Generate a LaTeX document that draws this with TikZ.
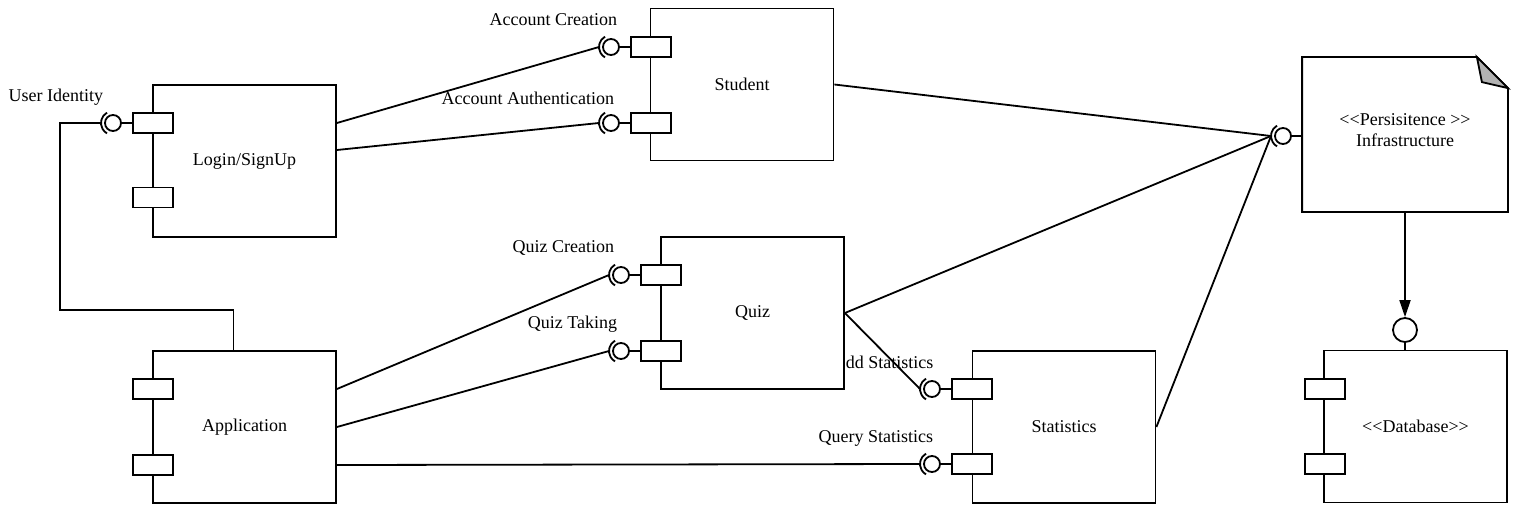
\documentclass[tikz,border=0pt]{standalone}
\usepackage{fontspec}
\setmainfont{Liberation Serif}
\usetikzlibrary{arrows.meta,calc}
\newcommand\mysock[3]{%
  \node[sockc] (#1) at (#2,#3) {};
  \draw ([shift={(120:12pt)}]#1.center) arc[start angle=120,end angle=240,radius=12pt];
  \coordinate (#1-s) at ([xshift=-12pt]#1.center);
}
\begin{document}
\begin{tikzpicture}[x=1pt,y=-1pt,line width=1.8pt,
  every node/.style={font=\fontsize{18}{21}\selectfont},
  comp/.style={draw,fill=white,minimum width=183pt,minimum height=152pt,inner sep=0pt},
  port/.style={draw,fill=white,minimum width=40pt,minimum height=20pt,inner sep=0pt},
  sockc/.style={draw,circle,minimum size=16pt,inner sep=0pt,fill=white},
  lbl/.style={inner sep=0pt}]
\useasboundingbox (0,0) rectangle (1521,516);
\fill[white] (0,0) rectangle (1521,516);

% components
\node[comp] (login) at (244.5,161) {Login/SignUp};
\node[comp] (student) at (742,84.5) {Student};
\node[comp] (quiz) at (752.5,313) {Quiz};
\node[comp] (app) at (244.5,427) {Application};
\node[comp] (stats) at (1064,427) {Statistics};
\node[comp] (db) at (1415.5,426.5) {<{}<Database>{}>};

% infrastructure (note shape)
\node[minimum width=204pt,minimum height=153pt,inner sep=0pt] (infra) at (1405,134.5) {};
\draw[fill=white] (infra.north west) -- ([xshift=-31pt]infra.north east) -- ([yshift=-31pt]infra.north east) -- (infra.south east) -- (infra.south west) -- cycle;
\draw[fill=gray!60] ([xshift=-31pt]infra.north east) -- ([xshift=-26pt,yshift=-25pt]infra.north east) -- ([yshift=-31pt]infra.north east) -- cycle;
\node[align=center,inner sep=0pt] (inftxt) at (1405,130) {<{}<Persisitence >{}>\\Infrastructure};

% ports
\node[port] (loginP1) at (153,123) {};
\node[port] (loginP2) at (153,197.5) {};
\node[port] (stuP1) at (651,47) {};
\node[port] (stuP2) at (651,123) {};
\node[port] (quizP1) at (661,275) {};
\node[port] (quizP2) at (661,351) {};
\node[port] (appP1) at (153,389) {};
\node[port] (appP2) at (153,465) {};
\node[port] (statP1) at (972,389) {};
\node[port] (statP2) at (972,464) {};
\node[port] (dbP1) at (1325,389) {};
\node[port] (dbP2) at (1325,464) {};

% sockets
\mysock{uiS}{113}{123}
\mysock{acS}{611}{47}
\mysock{aaS}{611}{123}
\mysock{qcS}{621}{275}
\mysock{qtS}{621}{351}
\mysock{asS}{932}{389}
\mysock{qsS}{932}{464}
\mysock{infS}{1283}{136}
\draw (uiS.east) -- (loginP1.west);
\draw (acS.east) -- (stuP1.west);
\draw (aaS.east) -- (stuP2.west);
\draw (qcS.east) -- (quizP1.west);
\draw (qtS.east) -- (quizP2.west);
\draw (asS.east) -- (statP1.west);
\draw (qsS.east) -- (statP2.west);
\draw (infS.east) -- (infS.east -| infra.west);

% database provided interface
\node[draw,circle,minimum size=24pt,inner sep=0pt,fill=white] (dbC) at (1405,330) {};
\draw (dbC.south) -- (dbC.south |- db.north);
\draw[-{Triangle[length=17pt,width=11pt]}] (infra.south) -- (dbC.north);

% connectors
\coordinate (bend) at (60,310);
\draw ([xshift=-11pt]app.north) |- (bend) |- (uiS-s);
\draw ([yshift=38pt]login.east) -- (acS-s);
\draw ([yshift=11pt]login.east) -- (aaS-s);
\draw (student.east) -- (infS-s);
\draw ([yshift=38pt]app.east) -- (qcS-s);
\draw (app.east) -- (qtS-s);
\draw ([yshift=-38pt]app.east) -- (qsS-s);
\draw (quiz.east) -- (infS-s);
\draw (stats.east) -- (infS-s);

% labels
\node[lbl,anchor=east] (lUI) at (104,97) {User Identity};
\node[lbl,anchor=east] (lAC) at (618,20) {Account Creation};
\node[lbl,anchor=east] (lAA) at (615,98) {Account Authentication};
\node[lbl,anchor=east] (lQC) at (615,248) {Quiz Creation};
\node[lbl,anchor=east] (lQT) at (618,324) {Quiz Taking};
\node[lbl,anchor=west] (lAS) at (845,362) {dd Statistics};
\node[lbl,anchor=east] (lQS) at (934,438) {Query Statistics};
\draw (quiz.east) -- (asS-s);
\end{tikzpicture}
\end{document}
